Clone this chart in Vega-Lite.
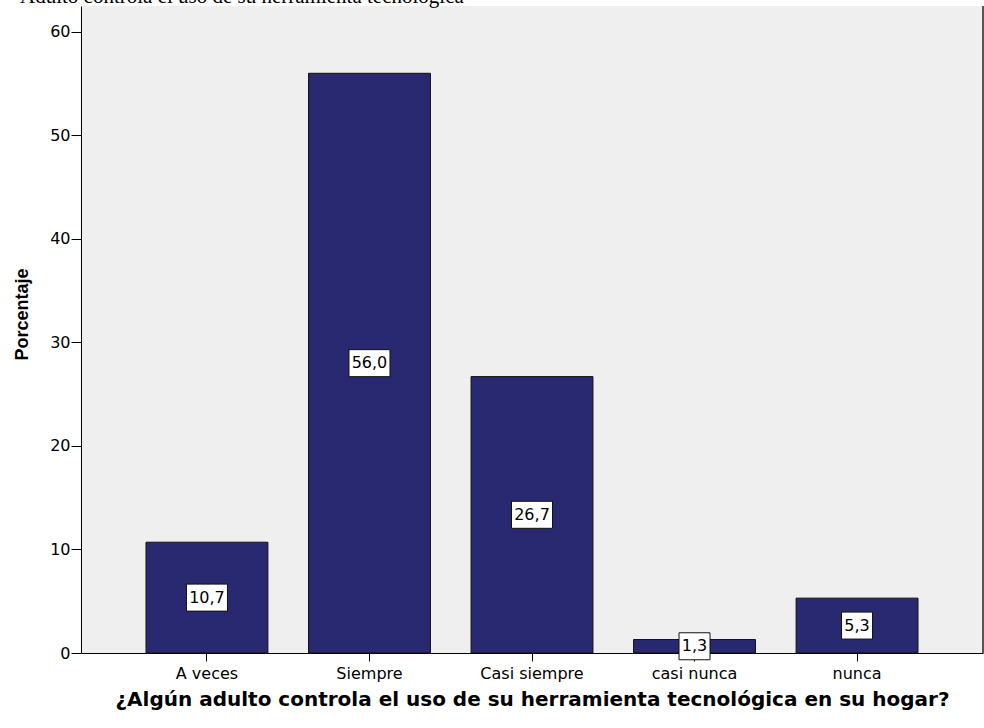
{
  "$schema": "https://vega.github.io/schema/vega-lite/v6.json",
  "width": 902,
  "height": 647,
  "autosize": "none",
  "padding": {"left": 81, "top": 6, "right": 1, "bottom": 75},
  "background": "white",
  "title": {
    "text": "Adulto controla el uso de su herramienta tecnológica",
    "anchor": "start",
    "frame": "group",
    "font": "Liberation Serif",
    "fontSize": 21,
    "fontWeight": "normal",
    "color": "black",
    "baseline": "alphabetic",
    "offset": -15,
    "dy": 4,
    "dx": -61
  },
  "config": {
    "view": {"stroke": null, "fill": "#EFEFEF"},
    "axis": {"grid": false, "domainColor": "black", "tickColor": "black", "labelColor": "black", "titleColor": "black", "labelFont": "DejaVu Sans", "titleFont": "Liberation Sans"}
  },
  "data": {
    "values": [
      {"categoria": "A veces", "Porcentaje": 10.7, "etiqueta": "10,7"},
      {"categoria": "Siempre", "Porcentaje": 56.0, "etiqueta": "56,0"},
      {"categoria": "Casi siempre", "Porcentaje": 26.7, "etiqueta": "26,7"},
      {"categoria": "casi nunca", "Porcentaje": 1.3, "etiqueta": "1,3"},
      {"categoria": "nunca", "Porcentaje": 5.3, "etiqueta": "5,3"}
    ]
  },
  "transform": [{"calculate": "datum.Porcentaje / 2", "as": "medio"}],
  "encoding": {
    "x": {
      "field": "categoria",
      "type": "nominal",
      "sort": null,
      "scale": {"paddingInner": 0.25, "paddingOuter": 0.4},
      "axis": {
        "title": "¿Algún adulto controla el uso de su herramienta tecnológica en su hogar?",
        "titleFont": "DejaVu Sans",
        "titleFontSize": 20,
        "titleFontWeight": "bold",
        "titlePadding": 8,
        "labelAngle": 0,
        "labelFontSize": 16,
        "tickSize": 8,
        "labelPadding": 4,
        "domainWidth": 1
      }
    }
  },
  "layer": [
    {
      "mark": {"type": "bar", "color": "#292971", "stroke": "#111111", "strokeWidth": 1},
      "encoding": {
        "y": {
          "field": "Porcentaje",
          "type": "quantitative",
          "scale": {"domain": [0, 62.5], "nice": false},
          "axis": {
            "values": [0, 10, 20, 30, 40, 50, 60],
            "title": "Porcentaje",
            "titleFontSize": 18,
            "titleFontWeight": "bold",
            "titleAngle": -90,
            "titleX": -54,
            "titleY": 308,
            "titleAlign": "center",
            "titleBaseline": "alphabetic",
            "labelFontSize": 16,
            "tickSize": 10,
            "labelPadding": 1
          }
        }
      }
    },
    {
      "mark": {"type": "rule", "color": "#555555", "strokeWidth": 2},
      "encoding": {
        "x": {"value": 902},
        "y": {"datum": 0, "type": "quantitative"},
        "y2": {"datum": 62.5}
      }
    },
    {
      "transform": [{"filter": "datum.Porcentaje >= 10"}],
      "mark": {"type": "rect", "width": 41, "height": 27, "fill": "white", "stroke": "#111111", "strokeWidth": 1},
      "encoding": {"y": {"field": "medio", "type": "quantitative"}}
    },
    {
      "transform": [{"filter": "datum.Porcentaje < 10"}],
      "mark": {"type": "rect", "width": 31, "height": 27, "fill": "white", "stroke": "#111111", "strokeWidth": 1},
      "encoding": {"y": {"field": "medio", "type": "quantitative"}}
    },
    {
      "mark": {"type": "text", "font": "DejaVu Sans", "fontSize": 16, "color": "black", "align": "center", "baseline": "middle"},
      "encoding": {
        "y": {"field": "medio", "type": "quantitative"},
        "text": {"field": "etiqueta"}
      }
    }
  ]
}
